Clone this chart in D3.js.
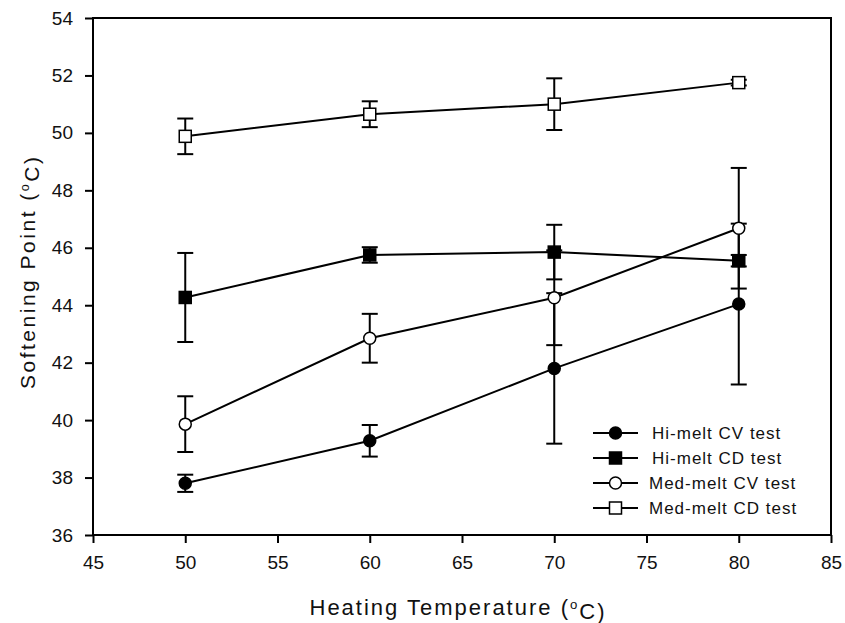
<!DOCTYPE html>
<html>
<head>
<meta charset="utf-8">
<script src="https://cdn.jsdelivr.net/npm/d3@7"></script>
<style>
  html, body { margin: 0; padding: 0; background: #fff; }
  svg { display: block; font-family: "Liberation Sans", Arial, sans-serif; }
</style>
</head>
<body>
<svg id="chart" width="845" height="623"></svg>
<script>
// Heating temperatures (°C)
const temps = [50, 60, 70, 80];

// Series names as shown in the legend
const seriesNames = ["Hi-melt CV test", "Hi-melt CD test", "Med-melt CV test", "Med-melt CD test"];

// Mean softening points (°C)
const hiCV  = [37.8, 39.28, 41.8, 44.04];
const hiCD  = [44.27, 45.75, 45.85, 45.55];
const medCV = [39.86, 42.85, 44.26, 46.68];
const medCD = [49.88, 50.65, 51.0, 51.75];

// Standard deviations (error bars)
const hiCVErr  = [0.3, 0.55, 2.62, 2.8];
const hiCDErr  = [1.55, 0.27, 0.95, 0.2];
const medCVErr = [0.97, 0.85, 1.65, 2.1];
const medCDErr = [0.62, 0.45, 0.9, 0.1];

const xTicks = [45, 50, 55, 60, 65, 70, 75, 80, 85];
const yTicks = [36, 38, 40, 42, 44, 46, 48, 50, 52, 54];

const series = [
  { name: seriesNames[0], values: hiCV,  errs: hiCVErr,  shape: "circle", filled: true },
  { name: seriesNames[1], values: hiCD,  errs: hiCDErr,  shape: "square", filled: true },
  { name: seriesNames[2], values: medCV, errs: medCVErr, shape: "circle", filled: false },
  { name: seriesNames[3], values: medCD, errs: medCDErr, shape: "square", filled: false }
];

const svg = d3.select("#chart");
const plotLeft = 93, plotRight = 831, plotTop = 18, plotBottom = 535;

const x = d3.scaleLinear().domain([45, 85]).range([plotLeft, plotRight]);
const y = d3.scaleLinear().domain([36, 54]).range([plotBottom, plotTop]);

// Axes (ticks outside, left and bottom only)
const xAxis = svg.append("g")
  .attr("transform", `translate(0,${plotBottom})`)
  .call(d3.axisBottom(x).tickValues(xTicks).tickFormat(d3.format("d")).tickSize(8).tickSizeOuter(0).tickPadding(13));
const yAxis = svg.append("g")
  .attr("transform", `translate(${plotLeft},0)`)
  .call(d3.axisLeft(y).tickValues(yTicks).tickFormat(d3.format("d")).tickSize(8).tickSizeOuter(0).tickPadding(12));

[xAxis, yAxis].forEach(g => {
  g.select(".domain").remove();
  g.selectAll(".tick line").attr("stroke", "#000").attr("stroke-width", 2);
  g.selectAll(".tick text")
    .attr("fill", "#111")
    .style("font-family", "'Liberation Sans', Arial, sans-serif")
    .style("font-size", "19px");
});

// Plot frame
svg.append("rect")
  .attr("x", plotLeft).attr("y", plotTop)
  .attr("width", plotRight - plotLeft).attr("height", plotBottom - plotTop)
  .attr("fill", "none").attr("stroke", "#000").attr("stroke-width", 2);

const line = d3.line().x(d => x(d.t)).y(d => y(d.v));
const capHalf = 8;

function drawMarker(g, shape, filled, cx, cy) {
  const fill = filled ? "#000" : "#fff";
  if (shape === "circle") {
    g.append("circle").attr("cx", cx).attr("cy", cy).attr("r", 6)
      .attr("fill", fill).attr("stroke", "#000").attr("stroke-width", 1.5);
  } else {
    g.append("rect").attr("x", cx - 6).attr("y", cy - 6).attr("width", 12).attr("height", 12)
      .attr("fill", fill).attr("stroke", "#000").attr("stroke-width", 1.5);
  }
}

// Error bars, connecting lines, then markers
series.forEach(s => {
  const pts = temps.map((t, i) => ({ t, v: s.values[i], e: s.errs[i] }));
  const g = svg.append("g");

  pts.forEach(p => {
    const px = x(p.t), yHi = y(p.v + p.e), yLo = y(p.v - p.e);
    g.append("line").attr("x1", px).attr("x2", px).attr("y1", yHi).attr("y2", yLo)
      .attr("stroke", "#000").attr("stroke-width", 2);
    [yHi, yLo].forEach(yy => g.append("line")
      .attr("x1", px - capHalf).attr("x2", px + capHalf).attr("y1", yy).attr("y2", yy)
      .attr("stroke", "#000").attr("stroke-width", 2));
  });

  g.append("path").datum(pts).attr("d", line)
    .attr("fill", "none").attr("stroke", "#000").attr("stroke-width", 2);

  pts.forEach(p => drawMarker(g, s.shape, s.filled, x(p.t), y(p.v)));
});

// Legend
const legend = svg.append("g");
series.forEach((s, i) => {
  const cy = 433 + i * 25;
  const row = legend.append("g");
  row.append("line").attr("x1", 593).attr("x2", 638).attr("y1", cy).attr("y2", cy)
    .attr("stroke", "#000").attr("stroke-width", 2);
  drawMarker(row, s.shape, s.filled, 615.5, cy);
  row.append("text").attr("x", i < 2 ? 652 : 649).attr("y", cy).attr("dy", "0.36em")
    .attr("fill", "#111")
    .style("font-size", "17px").style("letter-spacing", "1px")
    .text(s.name);
});

// Axis titles with superscript degree mark
function degreeTitle(sel, label) {
  sel.append("tspan").text(label + " (");
  sel.append("tspan").attr("dy", "-0.45em").style("font-size", "0.6em").text("o");
  sel.append("tspan").attr("dy", "0.45em").text("C)");
}

const xTitle = svg.append("text")
  .attr("x", 457).attr("y", 615)
  .attr("text-anchor", "middle")
  .attr("fill", "#111")
  .style("font-size", "22px")
  .attr("textLength", 295).attr("lengthAdjust", "spacing");
degreeTitle(xTitle, "Heating Temperature");

const yTitle = svg.append("text")
  .attr("transform", "translate(35,273) rotate(-90)")
  .attr("text-anchor", "middle")
  .attr("fill", "#111")
  .style("font-size", "21px")
  .attr("textLength", 232).attr("lengthAdjust", "spacing");
degreeTitle(yTitle, "Softening Point");
</script>
</body>
</html>
